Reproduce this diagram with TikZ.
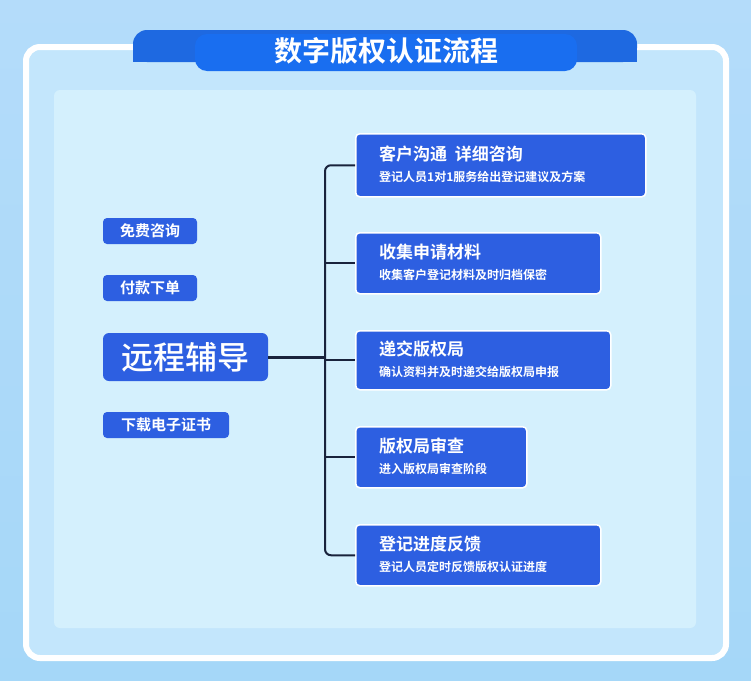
\documentclass[tikz,border=0pt]{standalone}
\usepackage{fontspec}
\setmainfont{Noto Sans CJK SC}
\newfontfamily\cjkb{Noto Sans CJK SC Bold}
\newfontfamily\cjkm{Noto Sans CJK SC Medium}
\definecolor{bgA}{RGB}{180,220,250}
\definecolor{bgB}{RGB}{165,215,248}
\definecolor{panel}{RGB}{195,230,252}
\definecolor{inner}{RGB}{212,240,253}
\definecolor{tabD}{RGB}{30,105,225}
\definecolor{tabL}{RGB}{25,110,240}
\definecolor{boxb}{RGB}{45,95,225}
\definecolor{linec}{RGB}{25,35,60}
\begin{document}
\begin{tikzpicture}[x=1pt,y=-1pt,
  lab/.style={fill=boxb,rounded corners=4pt,text=white,inner sep=0pt,font=\cjkb\fontsize{15}{15}\selectfont},
  rbox/.style={draw=white,line width=1.5pt,fill=boxb,rounded corners=4pt,anchor=north west,inner sep=0pt},
  conn/.style={draw=linec,line width=2pt,rounded corners=6pt}]
\useasboundingbox (0,0) rectangle (751,680);
\shade[top color=bgA,bottom color=bgB] (0,0) rectangle (751,680);
\draw[white,line width=6pt,fill=panel,rounded corners=14pt] (26,47) rectangle (726,658);
\fill[inner,rounded corners=6pt] (54,90) rectangle (696,628);
\fill[tabD,rounded corners=14pt] (133,30) rectangle (637,62);
\fill[tabD] (133,48) rectangle (637,62);
\fill[tabL,rounded corners=12pt] (195,34) rectangle (577,71);
\node[text=white,font=\cjkb\fontsize{28}{28}\selectfont] (title) at (386,51) {数字版权认证流程};
% left labels
\node[lab,minimum width=94pt,minimum height=26pt] (l1) at (150,231) {免费咨询};
\node[lab,minimum width=94pt,minimum height=26pt] (l2) at (150,288) {付款下单};
\node[lab,minimum width=165pt,minimum height=48pt,rounded corners=6pt,font=\cjkm\fontsize{32}{32}\selectfont] (l3) at (185.5,357) {远程辅导};
\node[lab,minimum width=126pt,minimum height=26pt] (l4) at (166,425) {下载电子证书};
% right boxes
\node[rbox,minimum width=290pt,minimum height=63pt] (b1) at (355,133) {};
\node[rbox,minimum width=245pt,minimum height=61pt] (b2) at (355,232) {};
\node[rbox,minimum width=255pt,minimum height=59pt] (b3) at (355,330) {};
\node[rbox,minimum width=171pt,minimum height=61pt] (b4) at (355,426) {};
\node[rbox,minimum width=245pt,minimum height=61pt] (b5) at (355,524) {};
\foreach \b/\t/\s in {b1/{客户沟通\ \ 详细咨询}/{登记人员1对1服务给出登记建议及方案},
  b2/收集申请材料/收集客户登记材料及时归档保密,
  b3/递交版权局/确认资料并及时递交给版权局申报,
  b4/版权局审查/进入版权局审查阶段,
  b5/登记进度反馈/登记人员定时反馈版权认证进度}{
  \node[anchor=west,text=white,font=\cjkb\fontsize{17}{17}\selectfont,inner sep=0pt] (\b t) at ([xshift=24pt,yshift=11pt]\b.west) {\t};
  \node[anchor=west,text=white,font=\cjkb\fontsize{12}{12}\selectfont,inner sep=0pt] (\b s) at ([xshift=24pt,yshift=-12pt]\b.west) {\s};
}
% connectors
\coordinate (j) at (325,357);
\draw[conn,line width=3pt] (l3.east) -- (j);
\draw[conn] (b1.west) -- (b1.west -| j) -- (b5.west -| j) -- (b5.west);
\draw[conn] (b2.west -| j) -- (b2.west);
\draw[conn] (b3.west -| j) -- (b3.west);
\draw[conn] (b4.west -| j) -- (b4.west);
\end{tikzpicture}
\end{document}
